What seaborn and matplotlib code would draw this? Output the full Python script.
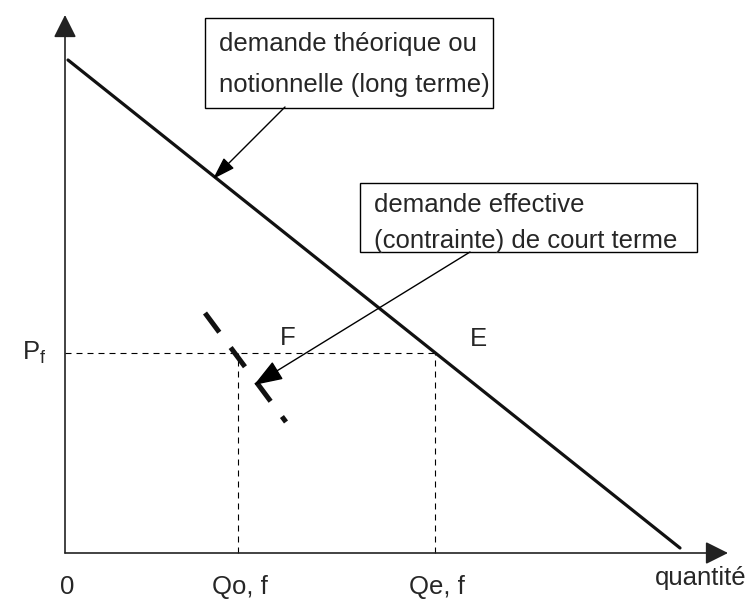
import matplotlib
matplotlib.use('Agg')
import matplotlib.pyplot as plt
import seaborn as sns
from matplotlib.patches import Rectangle

# demand schema, units: quantity and price (arbitrary)
q_long = [0.3, 61.5]        # long term (notional) demand
p_long = [49.3, 0.5]
q_short = [14.0, 22.1]      # short term (effective) demand
p_short = [24.0, 13.1]
q_e = 37.0                  # Qe, f
q_o = 17.3                  # Qo, f
p_f = 20.0                  # Pf
q_max = 66.3                # end of quantity axis
p_max = 53.8                # end of price axis

label_long = ['demande théorique ou', 'notionnelle (long terme)']
label_short = ['demande effective', '(contrainte) de court terme']
tick_labels = ['0', 'Qo, f', 'Qe, f']

sns.set_style('white')
plt.rcParams['font.family'] = ['Liberation Sans', 'DejaVu Sans']
plt.rcParams['mathtext.fontset'] = 'custom'
plt.rcParams['mathtext.rm'] = 'Liberation Sans'
plt.rcParams['mathtext.it'] = 'Liberation Sans'
fs = 18.5

fig = plt.figure(figsize=(7.48, 6.02), dpi=100)
ax = fig.add_axes([0, 0, 1, 1])
ax.set_xlim(-6.5, 68.3)
ax.set_ylim(-4.9, 55.3)
ax.axis('off')

# axes with arrow heads
ax.annotate('', xy=(q_max, 0), xytext=(0, 0),
            arrowprops=dict(arrowstyle='-|>,head_length=14,head_width=7', mutation_scale=1,
                            color='#222222', lw=1.2, shrinkA=0, shrinkB=0))
ax.annotate('', xy=(0, p_max), xytext=(0, 0),
            arrowprops=dict(arrowstyle='-|>,head_length=14,head_width=7', mutation_scale=1,
                            color='#222222', lw=1.2, shrinkA=0, shrinkB=0))

# dashed guides (estimator=None so vertical segments are not aggregated)
guide = dict(ax=ax, color='black', linewidth=0.8, linestyle=(0, (5.4, 4.5)),
             estimator=None, sort=False)
sns.lineplot(x=[0, q_e], y=[p_f, p_f], **guide)
sns.lineplot(x=[q_o, q_o], y=[0, p_f], **guide)
sns.lineplot(x=[q_e, q_e], y=[0, p_f], **guide)

# demand curves
sns.lineplot(x=q_long, y=p_long, ax=ax, color='#111111', linewidth=2.3,
             estimator=None, sort=False)
sns.lineplot(x=q_short, y=p_short, ax=ax, color='#111111', linewidth=3.6,
             linestyle=(0, (4.8, 3.8)), estimator=None, sort=False)

# text boxes
ax.add_patch(Rectangle((14.0, 44.5), 28.8, 9.0, fill=False, edgecolor='black', lw=1.0))
ax.text(15.4, 50.2, label_long[0], fontsize=fs, va='baseline')
ax.text(15.4, 46.1, label_long[1], fontsize=fs, va='baseline')

ax.add_patch(Rectangle((29.5, 30.1), 33.7, 6.9, fill=False, edgecolor='black', lw=1.0))
ax.text(30.9, 34.1, label_short[0], fontsize=fs, va='baseline')
ax.text(30.9, 30.5, label_short[1], fontsize=fs, va='baseline')

# pointer arrows
ax.annotate('', xy=(14.8, 37.4), xytext=(22.0, 44.6),
            arrowprops=dict(arrowstyle='-|>,head_length=14,head_width=4.5', mutation_scale=1,
                            color='black', lw=1.0, shrinkA=0, shrinkB=0))
ax.annotate('', xy=(18.9, 16.8), xytext=(40.5, 30.1),
            arrowprops=dict(arrowstyle='-|>,head_length=18,head_width=6.5', mutation_scale=1,
                            color='black', lw=1.0, shrinkA=0, shrinkB=0))

# point labels
ax.text(22.3, 20.8, 'F', fontsize=fs, ha='center', va='baseline')
ax.text(41.3, 20.7, 'E', fontsize=fs, ha='center', va='baseline')
ax.text(-4.3, 19.3, r'P$_\mathrm{f}$', fontsize=fs, ha='left', va='baseline')

for q, lab in zip([0, q_o, q_e], tick_labels):
    ax.text(q + 0.2, -4.1, lab, fontsize=fs, ha='center', va='baseline')
ax.text(68.1, -3.2, 'quantité', fontsize=fs, ha='right', va='baseline')

fig.savefig('out.png', dpi=100)
